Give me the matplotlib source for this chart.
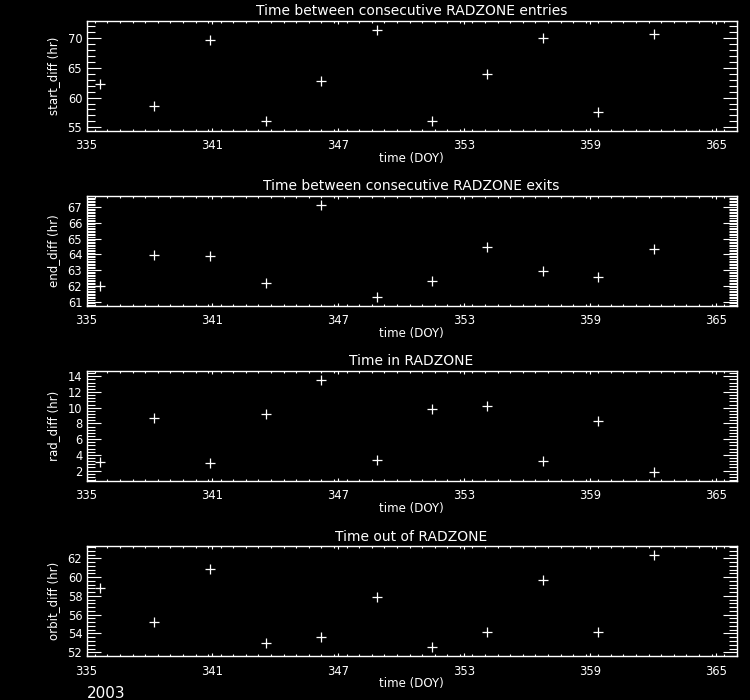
import matplotlib
matplotlib.use("Agg")
import matplotlib.pyplot as plt
from matplotlib.ticker import MultipleLocator, FixedLocator

# Day of year (2003) for each RADZONE pass
doy = [335.64, 338.24, 340.91, 343.56, 346.19, 348.86,
       351.48, 354.11, 356.76, 359.41, 362.05]

# Hours between consecutive entries / exits, time inside and outside
start_diff = [62.33, 58.5, 69.6, 56.05, 62.83, 71.33,
              56.0, 64.0, 70.0, 57.5, 70.67]
end_diff = [61.98, 63.95, 63.89, 62.17, 67.15, 61.28,
            62.30, 64.46, 62.95, 62.57, 64.33]
rad_diff = [3.06, 8.66, 2.93, 9.21, 13.57, 3.40,
            9.81, 10.20, 3.19, 8.32, 1.78]
orbit_diff = [58.8, 55.27, 60.86, 53.03, 53.6, 57.84,
              52.53, 54.2, 59.65, 54.2, 62.36]

titles = ["Time between consecutive RADZONE entries",
          "Time between consecutive RADZONE exits",
          "Time in RADZONE",
          "Time out of RADZONE"]
ylabels = ["start_diff (hr)", "end_diff (hr)", "rad_diff (hr)", "orbit_diff (hr)"]
series = [start_diff, end_diff, rad_diff, orbit_diff]
ylims = [(54.38, 72.87), (60.72, 67.70), (0.68, 14.68), (51.57, 63.28)]
ymajor = [5, 1, 2, 2]
yminor = [1, 0.1, 0.4, 0.4]

xticks = [335, 341, 347, 353, 359, 365]
year_label = "2003"

FG = "white"
BG = "black"

fig = plt.figure(figsize=(7.5, 7.0), dpi=100, facecolor=BG)

left = 86.5 / 750
width = (736.7 - 86.5) / 750
height = 110 / 700
bottoms_px = [131, 306, 481, 656.3]

for i in range(4):
    ax = fig.add_axes([left, 1 - bottoms_px[i] / 700, width, height], facecolor=BG)
    ax.plot(doy, series[i], linestyle="none", marker="+", markersize=7.5,
            markeredgewidth=0.9, color=FG)
    ax.set_xlim(335, 366)
    ax.set_ylim(*ylims[i])

    ax.xaxis.set_major_locator(FixedLocator(xticks))
    ax.xaxis.set_minor_locator(MultipleLocator(0.6))
    ax.yaxis.set_major_locator(MultipleLocator(ymajor[i]))
    ax.yaxis.set_minor_locator(MultipleLocator(yminor[i]))

    ax.tick_params(axis="both", which="both", direction="in", colors=FG,
                   top=True, right=True, labelsize=8.3)
    ax.tick_params(axis="x", which="major", length=2.2, width=0.8, pad=6)
    ax.tick_params(axis="x", which="minor", length=1.3, width=0.8)
    ax.tick_params(axis="y", which="major", length=9.8, width=0.8, pad=3)
    ax.tick_params(axis="y", which="minor", length=5.5, width=0.8)

    for sp in ax.spines.values():
        sp.set_color(FG)
        sp.set_linewidth(1.0)

    ax.set_title(titles[i], color=FG, fontsize=10, pad=4)
    ax.set_xlabel("time (DOY)", color=FG, fontsize=8.5)
    ax.xaxis.set_label_coords(0.5, -0.19)
    ax.set_ylabel(ylabels[i], color=FG, fontsize=8.5)
    ax.yaxis.set_label_coords(-0.041, 0.5)

fig.text(87 / 750, 1 - 693 / 700, year_label, color=FG, fontsize=11,
         ha="left", va="center")

fig.savefig("out.png", dpi=100, facecolor=BG)
